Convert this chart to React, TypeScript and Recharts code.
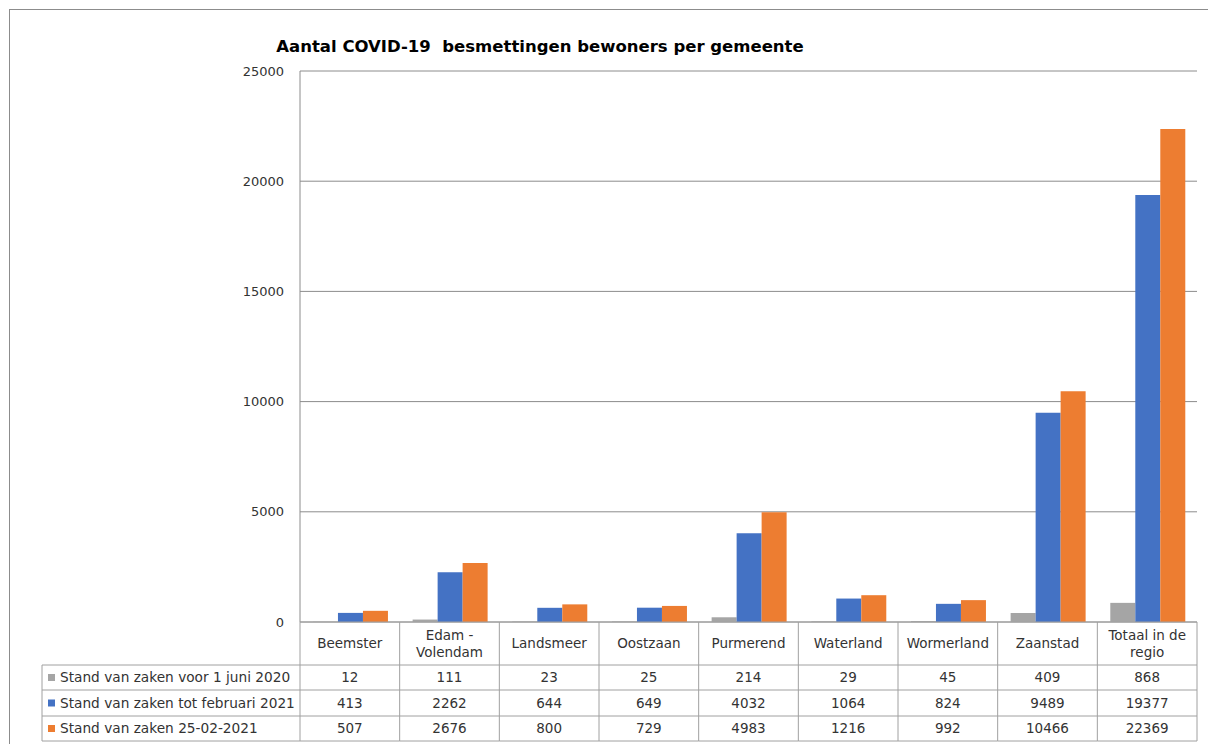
import { BarChart, Bar, XAxis, YAxis, CartesianGrid } from 'recharts';

const categories = [
  'Beemster',
  'Edam -\nVolendam',
  'Landsmeer',
  'Oostzaan',
  'Purmerend',
  'Waterland',
  'Wormerland',
  'Zaanstad',
  'Totaal in de\nregio',
];

const voorJuni2020 = [12, 111, 23, 25, 214, 29, 45, 409, 868];
const totFebruari2021 = [413, 2262, 644, 649, 4032, 1064, 824, 9489, 19377];
const stand25022021 = [507, 2676, 800, 729, 4983, 1216, 992, 10466, 22369];

const seriesNames = [
  'Stand van zaken voor 1 juni 2020',
  'Stand van zaken tot februari 2021',
  'Stand van zaken 25-02-2021',
];
const seriesKeys = ['juni2020', 'feb2021', 'd25022021'];
const seriesValues = [voorJuni2020, totFebruari2021, stand25022021];
const seriesColors = ['#A5A5A5', '#4472C4', '#ED7D31'];

const yTicks = [0, 5000, 10000, 15000, 20000, 25000];

const title = 'Aantal COVID-19  besmettingen bewoners per gemeente';

const chartData = categories.map((name, i) => ({
  name,
  juni2020: voorJuni2020[i],
  feb2021: totFebruari2021[i],
  d25022021: stand25022021[i],
}));

// chart covers the whole window (fixed), so no scrollbars appear
const W = 1208;
const H = 744;
const margin = { top: 71, right: 11, bottom: 2, left: 240 };
const yAxisWidth = 60;
const xAxisHeight = 120;
const plotLeft = margin.left + yAxisWidth;
const plotWidth = W - plotLeft - margin.right;

const font = "'DejaVu Sans', Verdana, sans-serif";
const textColor = '#333333';
const borderColor = '#A0A0A0';

// row boundaries of the data table, relative to the axis line
const rowEdges = [0, 43, 68, 94, 119];
const legendLeft = 42;

function TableTick(props: any) {
  const { x, y, payload } = props;
  const index = payload?.index ?? props.index ?? 0;
  const half = payload?.offset || plotWidth / categories.length / 2;
  const left = x - half;
  const right = x + half;
  const lines = String(payload.value).split('\n');
  const headerMid = y + rowEdges[1] / 2;

  return (
    <g>
      {index === 0 && (
        <g>
          <line x1={left} x2={left} y1={y} y2={y + rowEdges[4]} stroke={borderColor} />
          {rowEdges.slice(1).map((r) => (
            <line key={r} x1={legendLeft} x2={left} y1={y + r} y2={y + r} stroke={borderColor} />
          ))}
          <line x1={legendLeft} x2={legendLeft} y1={y + rowEdges[1]} y2={y + rowEdges[4]} stroke={borderColor} />
          {seriesNames.map((s, i) => {
            const mid = y + (rowEdges[i + 1] + rowEdges[i + 2]) / 2;
            return (
              <g key={s}>
                <rect x={legendLeft + 6} y={mid - 3.5} width={7} height={7} fill={seriesColors[i]} />
                <text x={legendLeft + 18} y={mid} dy="0.35em" fontSize={13.7} fontFamily={font} fill={textColor}>
                  {s}
                </text>
              </g>
            );
          })}
        </g>
      )}
      <line x1={right} x2={right} y1={y} y2={y + rowEdges[4]} stroke={borderColor} />
      {rowEdges.map((r) => (
        <line key={r} x1={left} x2={right} y1={y + r} y2={y + r} stroke={borderColor} />
      ))}
      {lines.map((ln, i) => (
        <text
          key={ln}
          x={x}
          y={headerMid + (i - (lines.length - 1) / 2) * 17}
          dy="0.35em"
          textAnchor="middle"
          fontSize={13.5}
          fontFamily={font}
          fill={textColor}
          style={{ whiteSpace: 'pre' }}
        >
          {ln}
        </text>
      ))}
      {seriesValues.map((vals, i) => (
        <text
          key={i}
          x={x}
          y={y + (rowEdges[i + 1] + rowEdges[i + 2]) / 2}
          dy="0.35em"
          textAnchor="middle"
          fontSize={13.5}
          fontFamily={font}
          fill={textColor}
        >
          {vals[index]}
        </text>
      ))}
    </g>
  );
}

export default function App() {
  return (
    <div
      style={{
        position: 'fixed',
        left: 0,
        top: 0,
        width: W,
        height: H,
        background: '#fff',
        overflow: 'hidden',
      }}
    >
      <div
        style={{
          position: 'absolute',
          left: 9,
          top: 9,
          width: W - 9,
          height: H - 9,
          borderLeft: '1px solid #8C8C8C',
          borderTop: '1px solid #8C8C8C',
          boxSizing: 'border-box',
        }}
      />
      <div
        style={{
          position: 'absolute',
          left: 0,
          width: 1080,
          top: 38,
          textAlign: 'center',
          fontFamily: font,
          fontWeight: 'bold',
          fontSize: 16.5,
          lineHeight: '18px',
          whiteSpace: 'pre',
          color: '#000',
        }}
      >
        {title}
      </div>
      <div style={{ position: 'absolute', left: 0, top: 0 }}>
        <BarChart
          width={W}
          height={H}
          data={chartData}
          margin={margin}
          barCategoryGap="13%"
          barGap={0}
        >
          <CartesianGrid vertical={false} stroke="#8C8C8C" />
          <XAxis
            dataKey="name"
            height={xAxisHeight}
            interval={0}
            tickSize={0}
            tickMargin={0}
            axisLine={false}
            tick={<TableTick />}
          />
          <YAxis
            width={yAxisWidth}
            domain={[0, 25000]}
            ticks={yTicks}
            interval={0}
            tickSize={0}
            tickMargin={16}
            axisLine={{ stroke: '#8C8C8C' }}
            tick={{ fontSize: 13, fontFamily: font, fill: textColor }}
          />
          {seriesKeys.map((k, i) => (
            <Bar key={k} dataKey={k} name={seriesNames[i]} fill={seriesColors[i]} isAnimationActive={false} />
          ))}
        </BarChart>
      </div>
    </div>
  );
}
